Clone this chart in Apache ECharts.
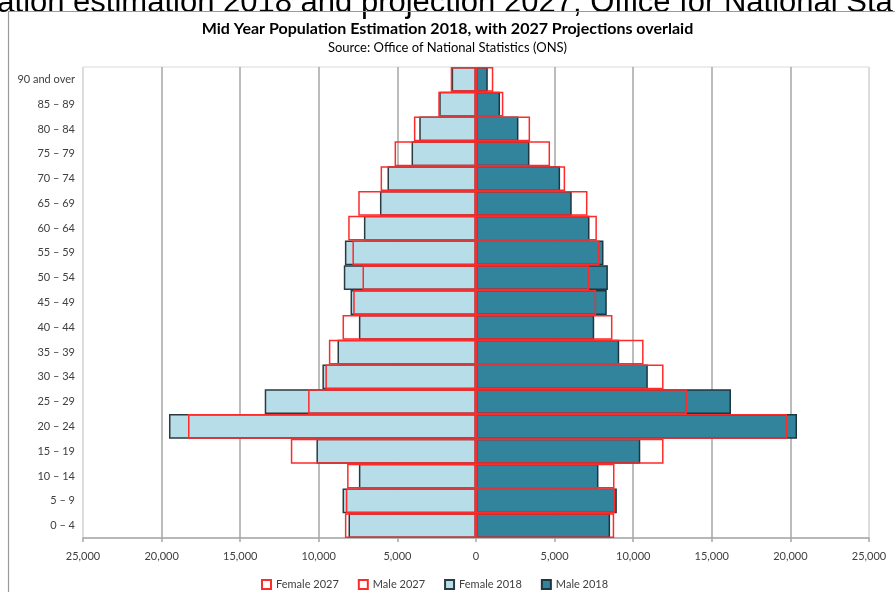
<!DOCTYPE html>
<html>
<head>
<meta charset="utf-8">
<script src="https://cdn.jsdelivr.net/npm/echarts@6/dist/echarts.min.js"></script>
<style>
  html, body { margin: 0; padding: 0; background: #fff; }
  #chart { width: 895px; height: 592px; }
</style>
</head>
<body>
<div id="chart"></div>
<script>
// Age groups, youngest first (the category axis draws the first one at the bottom)
const ageGroups = ['0 – 4', '5 – 9', '10 – 14', '15 – 19', '20 – 24', '25 – 29', '30 – 34',
  '35 – 39', '40 – 44', '45 – 49', '50 – 54', '55 – 59', '60 – 64', '65 – 69',
  '70 – 74', '75 – 79', '80 – 84', '85 – 89', '90 and over'];

// Mid-year 2018 estimates
const female2018 = [8110, 8490, 7450, 10150, 19530, 13440, 9770, 8810, 7450, 7980,
  8410, 8340, 7130, 6110, 5630, 4100, 3610, 2340, 1550];
const male2018 = [8530, 8960, 7790, 10450, 20420, 16220, 10930, 9110, 7520, 8320,
  8390, 8110, 7220, 6090, 5350, 3400, 2700, 1530, 750];

// 2027 projections
const female2027 = [8340, 8280, 8200, 11780, 18320, 10680, 9580, 9360, 8490, 7810,
  7220, 7860, 8130, 7490, 6070, 5180, 3950, 2400, 1610];
const male2027 = [8790, 8850, 8810, 11930, 19790, 13420, 11930, 10660, 8680, 7640,
  7200, 7860, 7690, 7090, 5670, 4710, 3440, 1740, 1100];

// Value axis ticks (women drawn to the left of zero)
const xTicks = [-25000, -20000, -15000, -10000, -5000, 0, 5000, 10000, 15000, 20000, 25000];

const uiFont = 'Lato, "Open Sans", sans-serif';
const textColor = '#404040';

const neg = arr => arr.map(v => -v);

const chart = echarts.init(document.getElementById('chart'), null, { renderer: 'canvas' });

const barBase = {
  type: 'bar',
  barGap: '-100%',
  barCategoryGap: '0%',
  animation: false
};

chart.setOption({
  backgroundColor: '#ffffff',
  textStyle: { fontFamily: uiFont },
  graphic: [
    {
      type: 'text',
      left: -82,
      top: -12,
      silent: true,
      style: {
        text: 'Population estimation 2018 and projection 2027, Office for National Statistics',
        font: '31px "Liberation Sans", Arial, sans-serif',
        fill: '#000'
      }
    },
    {
      type: 'rect',
      silent: true,
      shape: { x: 8.5, y: 11.5, width: 900, height: 600 },
      style: { fill: 'none', stroke: '#9a9a9a', lineWidth: 1.2 }
    },
    {
      type: 'text',
      left: 'center',
      top: 21,
      silent: true,
      style: {
        text: 'Mid Year Population Estimation 2018, with 2027 Projections overlaid',
        font: 'bold 16px ' + uiFont,
        fill: '#000'
      }
    },
    {
      type: 'text',
      left: 'center',
      top: 41,
      silent: true,
      style: {
        text: 'Source: Office of National Statistics (ONS)',
        font: '13px ' + uiFont,
        fill: '#000'
      }
    }
  ],
  grid: {
    left: 83, right: 26, top: 67, bottom: 54,
    show: true, borderColor: '#d9d9d9', borderWidth: 1
  },
  legend: {
    top: 574,
    left: 256,
    itemWidth: 9,
    itemHeight: 9,
    itemGap: 19,
    icon: 'rect',
    textStyle: { fontSize: 11, color: textColor, fontFamily: uiFont },
    data: ['Female 2027', 'Male 2027', 'Female 2018', 'Male 2018']
  },
  xAxis: {
    type: 'value',
    min: -25000,
    max: 25000,
    interval: 5000,
    axisLine: { show: true, lineStyle: { color: '#a6a6a6', width: 1.5 } },
    axisTick: { show: true, length: 4, lineStyle: { color: '#a6a6a6', width: 1.5 } },
    axisLabel: {
      color: textColor,
      fontSize: 11,
      margin: 13,
      formatter: v => Math.abs(v).toLocaleString('en-US')
    },
    splitLine: {
      show: true,
      lineStyle: {
        width: 1.5,
        color: xTicks.map((t, i) => (i === 0 || i === xTicks.length - 1) ? '#d9d9d9' : '#a6a6a6')
      }
    }
  },
  yAxis: {
    type: 'category',
    data: ageGroups,
    axisLine: { show: false },
    axisTick: { show: false },
    axisLabel: { color: textColor, fontSize: 11, margin: 8, padding: [3, 0, 0, 0] }
  },
  series: [
    Object.assign({}, barBase, {
      name: 'Female 2018',
      data: neg(female2018),
      itemStyle: { color: '#b7dde8', borderColor: '#2b3a40', borderWidth: 1.5 }
    }),
    Object.assign({}, barBase, {
      name: 'Male 2018',
      data: male2018,
      itemStyle: { color: '#31849b', borderColor: '#1f3540', borderWidth: 1.5 }
    }),
    Object.assign({}, barBase, {
      name: 'Female 2027',
      data: neg(female2027),
      itemStyle: { color: 'rgba(0,0,0,0)', borderColor: '#ff2a2a', borderWidth: 1.5 }
    }),
    Object.assign({}, barBase, {
      name: 'Male 2027',
      data: male2027,
      itemStyle: { color: 'rgba(0,0,0,0)', borderColor: '#ff2a2a', borderWidth: 1.5 }
    })
  ]
});
</script>
</body>
</html>
